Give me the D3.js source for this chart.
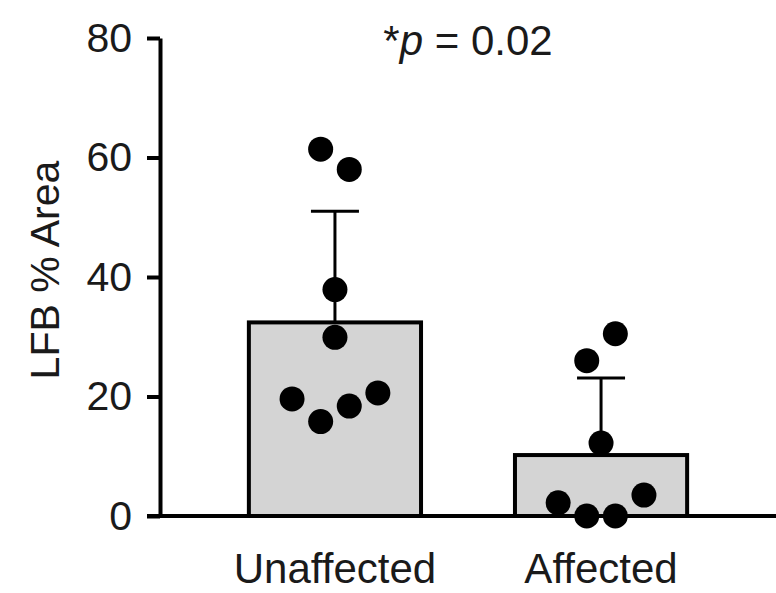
<!DOCTYPE html>
<html>
<head>
<meta charset="utf-8">
<script src="https://cdn.jsdelivr.net/npm/d3@7"></script>
<style>
  html, body { margin: 0; padding: 0; background: #fff; }
  svg { display: block; font-family: "Liberation Sans", Arial, Helvetica, sans-serif; }
</style>
</head>
<body>
<svg id="chart" width="776" height="593"></svg>
<script>
// ---- data ----
const categories = ["Unaffected", "Affected"];
const means = [32.4, 10.2];
const sds = [18.6, 12.9];
const unaffectedPoints = [61.4, 58.0, 37.9, 29.9, 19.6, 15.8, 18.4, 20.6];
const unaffectedSlots = [-1, 1, 0, 0, -3, -1, 1, 3];
const affectedPoints = [30.5, 26.0, 12.2, 2.2, 0, 0, 3.5];
const affectedSlots = [1, -1, 0, -3, -1, 1, 3];
const yTicks = [0, 20, 40, 60, 80];
const yLabel = "LFB % Area";
const pText = "0.02";

// ---- layout ----
const W = 776, H = 593;
const svg = d3.select("#chart");
const y = d3.scaleLinear().domain([0, 80]).range([516, 38]);
const x = d3.scaleBand().domain(categories).range([160, 776])
  .paddingInner(0.353).paddingOuter(0.334);
const slotStep = 14.3;
const dotR = 12.5;

const groups = [
  { cat: categories[0], mean: means[0], sd: sds[0], pts: unaffectedPoints, slots: unaffectedSlots },
  { cat: categories[1], mean: means[1], sd: sds[1], pts: affectedPoints, slots: affectedSlots }
];

// bars
svg.append("g").selectAll("rect").data(groups).join("rect")
  .attr("x", d => x(d.cat))
  .attr("y", d => y(d.mean))
  .attr("width", x.bandwidth())
  .attr("height", d => y(0) - y(d.mean))
  .attr("fill", "#d4d4d4")
  .attr("stroke", "#000")
  .attr("stroke-width", 4);

// error bars (upward)
const eb = svg.append("g").attr("stroke", "#000").attr("stroke-width", 3);
eb.selectAll("line.v").data(groups).join("line")
  .attr("class", "v")
  .attr("x1", d => x(d.cat) + x.bandwidth() / 2)
  .attr("x2", d => x(d.cat) + x.bandwidth() / 2)
  .attr("y1", d => y(d.mean))
  .attr("y2", d => y(d.mean + d.sd));
eb.selectAll("line.c").data(groups).join("line")
  .attr("class", "c")
  .attr("x1", d => x(d.cat) + x.bandwidth() / 2 - 24)
  .attr("x2", d => x(d.cat) + x.bandwidth() / 2 + 24)
  .attr("y1", d => y(d.mean + d.sd))
  .attr("y2", d => y(d.mean + d.sd));

// y axis
const yAxis = svg.append("g")
  .attr("transform", "translate(160,0)")
  .call(d3.axisLeft(y).tickValues(yTicks).tickSize(13).tickSizeOuter(0).tickPadding(15));
yAxis.select(".domain").attr("stroke-width", 4);
yAxis.selectAll(".tick line").attr("stroke-width", 4);
yAxis.selectAll(".tick text")
  .attr("font-size", 41)
  .attr("font-family", "Liberation Sans, Arial, sans-serif")
  .attr("fill", "#1a1a1a");

// x baseline
svg.append("line")
  .attr("x1", 147).attr("x2", W)
  .attr("y1", y(0)).attr("y2", y(0))
  .attr("stroke", "#000").attr("stroke-width", 4);

// x labels
const xAxis = svg.append("g")
  .attr("transform", "translate(0,583)")
  .call(d3.axisBottom(x).tickSize(0).tickPadding(0));
xAxis.select(".domain").remove();
xAxis.selectAll(".tick text")
  .attr("dy", 0)
  .attr("y", 0)
  .attr("font-size", 42)
  .attr("font-family", "Liberation Sans, Arial, sans-serif")
  .attr("fill", "#1a1a1a");

// dots
groups.forEach(g => {
  svg.append("g").selectAll("circle").data(g.pts.map((v, i) => ({ v, s: g.slots[i] }))).join("circle")
    .attr("cx", d => x(g.cat) + x.bandwidth() / 2 + d.s * slotStep)
    .attr("cy", d => y(d.v))
    .attr("r", dotR)
    .attr("fill", "#000");
});

// y label
svg.append("text")
  .attr("transform", "translate(59,270) rotate(-90)")
  .attr("text-anchor", "middle")
  .attr("font-size", 41)
  .attr("fill", "#1a1a1a")
  .text(yLabel);

// p value
const pt = svg.append("text")
  .attr("x", 468).attr("y", 55)
  .attr("text-anchor", "middle")
  .attr("font-size", 42)
  .attr("fill", "#1a1a1a");
pt.append("tspan").text("*");
pt.append("tspan").attr("font-style", "italic").text("p");
pt.append("tspan").text(" = " + pText);
</script>
</body>
</html>
